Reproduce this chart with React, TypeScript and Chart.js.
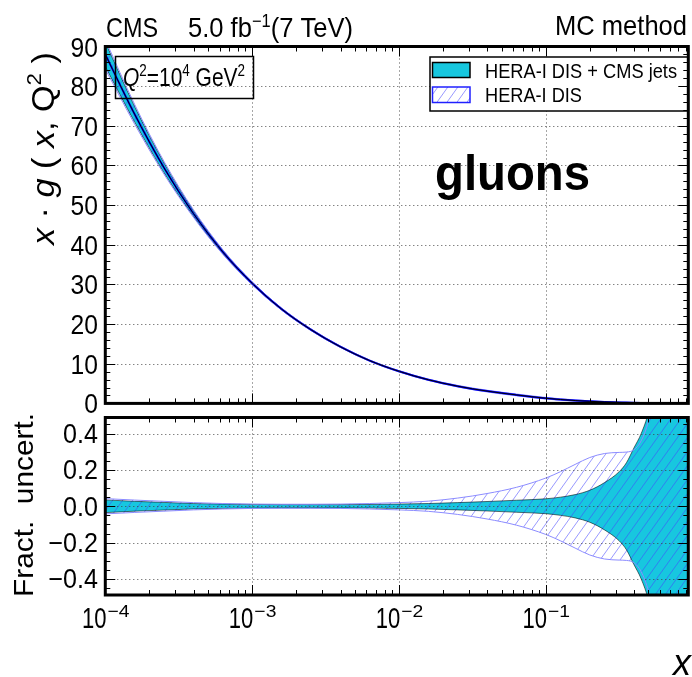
import React, { useEffect, useRef } from "react";
import { Chart, registerables } from "chart.js";

Chart.register(...registerables);

// ---------------- data ----------------
const X_POINTS = [
  0.0001, 0.0001585, 0.0002512, 0.0003981, 0.0006310, 0.001, 0.001585, 0.002512, 0.003981, 0.006310,
  0.01, 0.01585, 0.02512, 0.03981, 0.06310, 0.1, 0.1259, 0.1585, 0.1995, 0.2512,
  0.3162, 0.3548, 0.3981, 0.4467, 0.5012, 0.6310, 0.7943, 0.935,
];
// x * g(x, Q^2) at Q^2 = 1e4 GeV^2 (central value)
const XG_CENTRAL = [
  88.0, 72.9, 59.4, 47.9, 38.2, 30.3, 23.8, 18.6, 14.3, 10.8,
  8.1, 5.96, 4.34, 3.1, 2.14, 1.3, 0.98, 0.72, 0.52, 0.365,
  0.245, 0.198, 0.159, 0.126, 0.098, 0.055, 0.027, 0.015,
];
// fractional uncertainty, HERA-I DIS + CMS jets
const UNC_HERA_CMS = [
  0.035, 0.027, 0.021, 0.015, 0.012, 0.01, 0.009, 0.009, 0.009, 0.01,
  0.012, 0.015, 0.02, 0.026, 0.033, 0.041, 0.05, 0.064, 0.088, 0.13,
  0.19, 0.24, 0.32, 0.4, 0.52, 0.95, 1.5, 2.0,
];
// fractional uncertainty, HERA-I DIS
const UNC_HERA = [
  0.042, 0.034, 0.027, 0.02, 0.015, 0.012, 0.011, 0.011, 0.012, 0.015,
  0.02, 0.028, 0.045, 0.07, 0.104, 0.155, 0.19, 0.23, 0.268, 0.29,
  0.296, 0.298, 0.31, 0.36, 0.47, 0.88, 1.4, 1.9,
];
const X_RANGE = [1e-4, 0.935];
const TOP_Y_RANGE = [0, 90];
const BOT_Y_RANGE = [-0.488, 0.488];
const TOP_Y_TICKS = [0, 10, 20, 30, 40, 50, 60, 70, 80, 90];
const BOT_Y_TICKS = [-0.4, -0.2, 0, 0.2, 0.4];
const BOT_Y_TICK_LABELS = ["\u22120.4", "\u22120.2", "0.0", "0.2", "0.4"];
const X_TICK_EXPONENTS = [-4, -3, -2, -1];
const LEGEND_LABELS = ["HERA-I DIS + CMS jets", "HERA-I DIS"];

// ---------------- styles ----------------
const FONT = '"Liberation Sans", Arial, Helvetica, sans-serif';
const CYAN = "#17c7df";
const BAND_EDGE = "rgba(0,0,0,0.55)";
const HATCH_EDGE = "#8c8cff";
const HATCH_COLOR = "rgba(70,70,255,0.55)";
const GRID = "rgba(60,60,60,0.9)";

type Seg = { t: string; size: number; italic?: boolean; bold?: boolean; dy?: number };
const fontOf = (s: Seg) => `${s.italic ? "italic " : ""}${s.bold ? "bold " : ""}${s.size}px ${FONT}`;

function drawRich(
  ctx: CanvasRenderingContext2D,
  segs: Seg[],
  x: number,
  y: number,
  align: "left" | "center" | "right",
  width?: number,
  sx = 1
) {
  ctx.save();
  let natural = 0;
  const ws = segs.map((s) => {
    ctx.font = fontOf(s);
    const w = ctx.measureText(s.t).width;
    natural += w;
    return w;
  });
  const scale = width ? width / natural : sx;
  const total = natural * scale;
  const start = align === "left" ? x : align === "center" ? x - total / 2 : x - total;
  ctx.translate(start, y);
  ctx.scale(scale, 1);
  ctx.textAlign = "left";
  ctx.textBaseline = "alphabetic";
  ctx.fillStyle = "#000";
  let cx = 0;
  segs.forEach((s, i) => {
    ctx.font = fontOf(s);
    ctx.fillText(s.t, cx, s.dy || 0);
    cx += ws[i];
  });
  ctx.restore();
}

function drawRotated(ctx: CanvasRenderingContext2D, segs: Seg[], bx: number, cy: number, width: number) {
  ctx.save();
  ctx.translate(bx, cy);
  ctx.rotate(-Math.PI / 2);
  drawRich(ctx, segs, 0, 0, "center", width);
  ctx.restore();
}

function drawGrid(chart: any, yMajor: number[]) {
  const { ctx, chartArea: a, scales } = chart;
  const xs = scales.x;
  const ys = scales.y;
  ctx.save();
  ctx.strokeStyle = GRID;
  ctx.lineWidth = 1;
  ctx.setLineDash([1, 3]);
  ctx.beginPath();
  X_TICK_EXPONENTS.forEach((e) => {
    const v = Math.pow(10, e);
    if (v <= X_RANGE[0] * 1.0001) return;
    const px = Math.round(xs.getPixelForValue(v)) + 0.5;
    ctx.moveTo(px, a.top);
    ctx.lineTo(px, a.bottom);
  });
  yMajor.forEach((v) => {
    const py = Math.round(ys.getPixelForValue(v)) + 0.5;
    if (py <= a.top + 2 || py >= a.bottom - 2) return;
    ctx.moveTo(a.left, py);
    ctx.lineTo(a.right, py);
  });
  ctx.stroke();
  ctx.restore();
}

function drawFrameAndTicks(chart: any, minorStep: number, majorEvery: number, yMin: number, yMax: number) {
  const { ctx, chartArea: a, scales } = chart;
  const xs = scales.x;
  const ys = scales.y;
  ctx.save();
  ctx.strokeStyle = "#000";
  ctx.lineWidth = 1;
  ctx.beginPath();
  for (let d = -4; d <= 0; d++) {
    for (let k = 1; k <= 9; k++) {
      const v = k * Math.pow(10, d);
      if (v < X_RANGE[0] * 0.9999 || v > X_RANGE[1]) continue;
      const px = Math.round(xs.getPixelForValue(v)) + 0.5;
      const L = k === 1 ? 10 : 5;
      ctx.moveTo(px, a.bottom);
      ctx.lineTo(px, a.bottom - L);
      ctx.moveTo(px, a.top);
      ctx.lineTo(px, a.top + L);
    }
  }
  const i0 = Math.ceil(yMin / minorStep - 1e-9);
  const i1 = Math.floor(yMax / minorStep + 1e-9);
  for (let i = i0; i <= i1; i++) {
    const v = i * minorStep;
    const py = Math.round(ys.getPixelForValue(v)) + 0.5;
    const L = i % majorEvery === 0 ? 10 : 5;
    ctx.moveTo(a.left, py);
    ctx.lineTo(a.left + L, py);
    ctx.moveTo(a.right, py);
    ctx.lineTo(a.right - L, py);
  }
  ctx.stroke();
  ctx.lineWidth = 3;
  ctx.strokeRect(a.left, a.top, a.right - a.left, a.bottom - a.top);
  ctx.restore();
}

function makePattern(): CanvasPattern | string {
  const W = 10;
  const H = 14;
  const pc = document.createElement("canvas");
  pc.width = W;
  pc.height = H;
  const p = pc.getContext("2d");
  if (!p) return HATCH_COLOR;
  p.strokeStyle = HATCH_COLOR;
  p.lineWidth = 1;
  p.beginPath();
  for (let k = -1; k <= 1; k++) {
    p.moveTo(k * W, H);
    p.lineTo(k * W + W, 0);
  }
  p.stroke();
  const c = document.createElement("canvas").getContext("2d");
  return (c && c.createPattern(pc, "repeat")) || HATCH_COLOR;
}

const pts = (ys: number[]) => X_POINTS.map((x, i) => ({ x, y: ys[i] }));

function bandDatasets(lowC: number[], highC: number[], lowH: number[], highH: number[], pattern: any) {
  return [
    { label: "cyanLow", data: pts(lowC), borderColor: BAND_EDGE, borderWidth: 1, fill: false, order: 6 },
    {
      label: "cyanHigh",
      data: pts(highC),
      borderColor: BAND_EDGE,
      borderWidth: 1,
      backgroundColor: CYAN,
      fill: { target: 0 },
      order: 5,
    },
    { label: "hatchLow", data: pts(lowH), borderColor: HATCH_EDGE, borderWidth: 1, fill: false, order: 4 },
    {
      label: "hatchHigh",
      data: pts(highH),
      borderColor: HATCH_EDGE,
      borderWidth: 1,
      backgroundColor: pattern,
      fill: { target: 2 },
      order: 3,
    },
  ];
}

function baseOptions(yRange: number[], padding: any) {
  return {
    responsive: false,
    animation: false as const,
    devicePixelRatio: 1,
    layout: { padding },
    events: [],
    plugins: {
      legend: { display: false },
      tooltip: { enabled: false },
      filler: { propagate: false, drawTime: "beforeDatasetsDraw" },
    },
    elements: {
      point: { radius: 0 },
      line: { cubicInterpolationMode: "monotone" },
    },
    scales: {
      x: {
        type: "logarithmic",
        min: X_RANGE[0],
        max: X_RANGE[1],
        ticks: { display: false },
        grid: { display: false },
        border: { display: false },
        afterFit: (s: any) => {
          s.height = 0;
        },
      },
      y: {
        type: "linear",
        min: yRange[0],
        max: yRange[1],
        ticks: { display: false },
        grid: { display: false },
        border: { display: false },
        afterFit: (s: any) => {
          s.width = 0;
        },
      },
    },
  };
}

export default function App() {
  const topRef = useRef<HTMLCanvasElement>(null);
  const botRef = useRef<HTMLCanvasElement>(null);

  useEffect(() => {
    const pattern = makePattern();

    // ---------- top panel ----------
    const topDecor = {
      id: "topDecor",
      afterDatasetsDraw(chart: any) {
        drawGrid(chart, TOP_Y_TICKS);
      },
      afterDraw(chart: any) {
        const ctx: CanvasRenderingContext2D = chart.ctx;
        const ys = chart.scales.y;
        // legend box
        ctx.save();
        ctx.fillStyle = "#fff";
        ctx.fillRect(430, 57, 258, 54);
        ctx.lineWidth = 1.5;
        ctx.strokeStyle = "#000";
        ctx.strokeRect(430, 57, 258, 54);
        ctx.fillStyle = CYAN;
        ctx.fillRect(432.5, 62.5, 37.5, 15);
        ctx.strokeRect(432.5, 62.5, 37.5, 15);
        ctx.fillStyle = pattern as any;
        ctx.fillRect(432.5, 87, 37.5, 15.5);
        ctx.strokeStyle = "#2020ff";
        ctx.strokeRect(432.5, 87, 37.5, 15.5);
        ctx.restore();
        drawRich(ctx, [{ t: LEGEND_LABELS[0], size: 20 }], 485, 77.5, "left", 192);
        drawRich(ctx, [{ t: LEGEND_LABELS[1], size: 20 }], 485, 101.5, "left", 97);

        // Q^2 box
        ctx.save();
        ctx.lineWidth = 1.5;
        ctx.strokeStyle = "#000";
        ctx.strokeRect(115.5, 56.5, 138, 42);
        ctx.restore();
        drawRich(
          ctx,
          [
            { t: "Q", size: 25, italic: true },
            { t: "2", size: 16, dy: -10 },
            { t: "=10", size: 25 },
            { t: "4", size: 16, dy: -10 },
            { t: " GeV", size: 25 },
            { t: "2", size: 16, dy: -10 },
          ],
          123,
          86,
          "left",
          122
        );

        drawFrameAndTicks(chart, 2, 5, TOP_Y_RANGE[0], TOP_Y_RANGE[1]);

        // gluons
        drawRich(ctx, [{ t: "gluons", size: 50, bold: true }], 435, 190, "left", 155);

        // header
        drawRich(ctx, [{ t: "CMS", size: 28 }], 106, 37, "left", 52);
        drawRich(
          ctx,
          [
            { t: "5.0 fb", size: 28 },
            { t: "\u22121", size: 18, dy: -10 },
            { t: "(7 TeV)", size: 28 },
          ],
          188,
          37,
          "left",
          165
        );
        drawRich(ctx, [{ t: "MC method", size: 28 }], 687, 35, "right", 132);

        // y tick labels
        TOP_Y_TICKS.forEach((v) => {
          const py = ys.getPixelForValue(v);
          drawRich(ctx, [{ t: String(v), size: 28 }], 98, py + 10, "right", undefined, 0.88);
        });

        // y title
        drawRotated(
          ctx,
          [
            { t: "x", size: 32, italic: true },
            { t: " \u00b7 ", size: 32 },
            { t: "g", size: 32, italic: true },
            { t: " ( ", size: 32 },
            { t: "x", size: 32, italic: true },
            { t: ", ", size: 32 },
            { t: "Q", size: 32 },
            { t: "2", size: 21, dy: -13 },
            { t: " )", size: 32 },
          ],
          54,
          148.5,
          193
        );
      },
    };

    const cLow = XG_CENTRAL.map((c, i) => c * (1 - UNC_HERA_CMS[i]));
    const cHigh = XG_CENTRAL.map((c, i) => c * (1 + UNC_HERA_CMS[i]));
    const hLow = XG_CENTRAL.map((c, i) => c * (1 - UNC_HERA[i]));
    const hHigh = XG_CENTRAL.map((c, i) => c * (1 + UNC_HERA[i]));

    const top = new Chart(topRef.current as HTMLCanvasElement, {
      type: "line",
      data: {
        datasets: [
          ...bandDatasets(cLow, cHigh, hLow, hHigh, pattern),
          { label: "HERA-I DIS", data: pts(XG_CENTRAL), borderColor: "#0000ff", borderWidth: 2, fill: false, order: 2 },
          {
            label: "HERA-I DIS + CMS jets",
            data: pts(XG_CENTRAL),
            borderColor: "#000",
            borderWidth: 1,
            fill: false,
            order: 1,
          },
        ] as any,
      },
      options: baseOptions(TOP_Y_RANGE, { left: 105.3, right: 3.7, top: 46.5, bottom: 273.6 }) as any,
      plugins: [topDecor],
    });

    // ---------- bottom panel ----------
    const botDecor = {
      id: "botDecor",
      afterDatasetsDraw(chart: any) {
        drawGrid(chart, BOT_Y_TICKS);
      },
      afterDraw(chart: any) {
        const ctx: CanvasRenderingContext2D = chart.ctx;
        const xs = chart.scales.x;
        const ys = chart.scales.y;
        drawFrameAndTicks(chart, 0.05, 4, BOT_Y_RANGE[0], BOT_Y_RANGE[1]);

        BOT_Y_TICKS.forEach((v, i) => {
          const py = ys.getPixelForValue(v);
          drawRich(ctx, [{ t: BOT_Y_TICK_LABELS[i], size: 27 }], 98, py + 9.5, "right", undefined, 0.93);
        });

        X_TICK_EXPONENTS.forEach((e) => {
          const px = xs.getPixelForValue(Math.pow(10, e));
          const wMain = 24.5;
          const wSup = 22;
          const left = px - (wMain + wSup) / 2;
          drawRich(ctx, [{ t: "10", size: 30 }], left, 628, "left", wMain);
          drawRich(ctx, [{ t: "\u2212" + String(-e), size: 17 }], left + wMain + 1, 617, "left", wSup);
        });

        drawRotated(ctx, [{ t: "Fract.  uncert.", size: 28 }], 33, 505, 184);
        drawRich(ctx, [{ t: "x", size: 36, italic: true }], 691, 675, "right");
      },
    };

    const bcLow = UNC_HERA_CMS.map((u) => -u);
    const bhLow = UNC_HERA.map((u) => -u);

    const bot = new Chart(botRef.current as HTMLCanvasElement, {
      type: "line",
      data: {
        datasets: bandDatasets(bcLow, UNC_HERA_CMS, bhLow, UNC_HERA, pattern) as any,
      },
      options: baseOptions(BOT_Y_RANGE, { left: 105.3, right: 3.7, top: 417.5, bottom: 82 }) as any,
      plugins: [botDecor],
    });

    return () => {
      top.destroy();
      bot.destroy();
    };
  }, []);

  const cs: React.CSSProperties = { position: "absolute", left: 0, top: 0, width: 692, height: 677 };
  return (
    <div style={{ position: "absolute", left: 0, top: 0, width: 692, height: 677, background: "#fff" }}>
      <canvas ref={topRef} width={692} height={677} style={cs} />
      <canvas ref={botRef} width={692} height={677} style={cs} />
    </div>
  );
}
